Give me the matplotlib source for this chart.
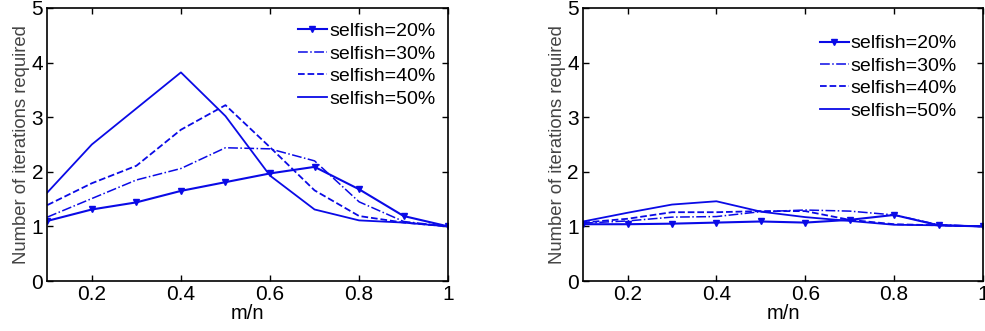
import matplotlib.pyplot as plt
import numpy as np

plt.rcParams['font.family'] = ['Liberation Sans', 'DejaVu Sans']

ratio = [0.1, 0.2, 0.3, 0.4, 0.5, 0.6, 0.7, 0.8, 0.9, 1.0]

# left panel
left_20 = [1.10, 1.31, 1.44, 1.65, 1.81, 1.97, 2.09, 1.68, 1.19, 1.00]
left_30 = [1.17, 1.51, 1.85, 2.06, 2.44, 2.42, 2.20, 1.45, 1.09, 1.00]
left_40 = [1.39, 1.79, 2.11, 2.77, 3.22, 2.45, 1.66, 1.19, 1.07, 1.00]
left_50 = [1.62, 2.50, 3.16, 3.82, 3.02, 1.93, 1.31, 1.11, 1.07, 1.00]

# right panel
right_20 = [1.04, 1.04, 1.05, 1.07, 1.09, 1.07, 1.12, 1.21, 1.02, 1.00]
right_30 = [1.06, 1.10, 1.17, 1.18, 1.27, 1.30, 1.28, 1.21, 1.03, 1.00]
right_40 = [1.07, 1.14, 1.26, 1.26, 1.28, 1.28, 1.12, 1.04, 1.02, 1.00]
right_50 = [1.09, 1.25, 1.40, 1.46, 1.27, 1.17, 1.10, 1.03, 1.02, 1.00]

labels = ['selfish=20%', 'selfish=30%', 'selfish=40%', 'selfish=50%']
blue = '#0a0ae6'


def draw_panel(ax, s20, s30, s40, s50, legend_pos):
    ax.plot(ratio, s20, color=blue, lw=1.5, marker='v', ms=4.5, label=labels[0])
    ax.plot(ratio, s30, color=blue, lw=1.1, ls='-.', label=labels[1])
    ax.plot(ratio, s40, color=blue, lw=1.3, ls='--', label=labels[2])
    ax.plot(ratio, s50, color=blue, lw=1.3, ls='-', label=labels[3])
    ax.set_xlim(0.1, 1.0)
    ax.set_ylim(0, 5)
    ax.set_xticks([0.2, 0.4, 0.6, 0.8, 1.0])
    ax.set_xticklabels(['0.2', '0.4', '0.6', '0.8', '1'])
    ax.set_yticks([0, 1, 2, 3, 4, 5])
    ax.tick_params(direction='in', length=4, width=1, top=True, right=True,
                   labelsize=15, pad=3)
    for sp in ax.spines.values():
        sp.set_linewidth(1.2)
    ax.set_xlabel('m/n', fontsize=14.5, labelpad=0)
    ax.set_ylabel('Number of iterations required', fontsize=13.3,
                  color='#444444', labelpad=1)
    ax.legend(loc='upper right', bbox_to_anchor=legend_pos, frameon=False,
              fontsize=14, handlelength=1.5, handletextpad=0.1,
              labelspacing=0.25, borderaxespad=0, borderpad=0)


fig = plt.figure(figsize=(9.85, 3.31), dpi=100)
ax1 = fig.add_axes([0.048, 0.151, 0.407, 0.825])
ax2 = fig.add_axes([0.592, 0.151, 0.406, 0.825])

draw_panel(ax1, left_20, left_30, left_40, left_50, (0.968, 0.946))
draw_panel(ax2, right_20, right_30, right_40, right_50, (0.935, 0.902))

fig.savefig('out.png', dpi=100)
